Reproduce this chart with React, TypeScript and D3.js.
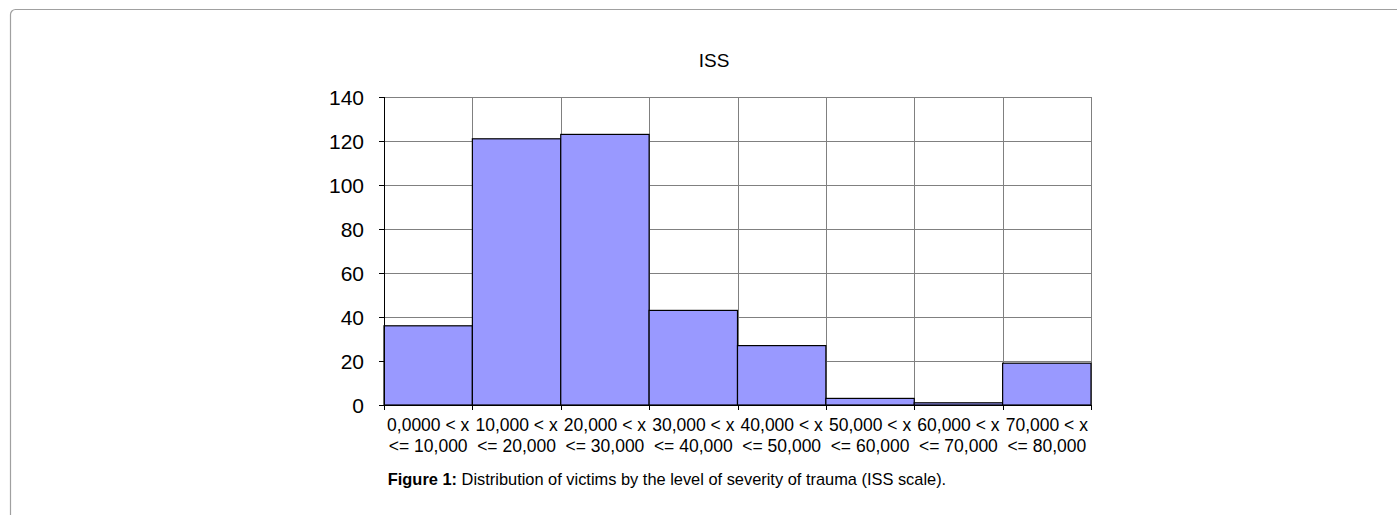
import React from "react";
import * as d3 from "d3";

const categoriesLine1 = ["0,0000 < x", "10,000 < x", "20,000 < x", "30,000 < x", "40,000 < x", "50,000 < x", "60,000 < x", "70,000 < x"];
const categoriesLine2 = ["<= 10,000", "<= 20,000", "<= 30,000", "<= 40,000", "<= 50,000", "<= 60,000", "<= 70,000", "<= 80,000"];
const values = [36, 121, 123, 43, 27, 3, 1, 19];
const yTicks = [0, 20, 40, 60, 80, 100, 120, 140];

const W = 1397, H = 515;
const left = 384, right = 1091, top = 97, bottom = 405;

export default function App() {
  const x = d3.scaleBand<number>().domain(d3.range(values.length)).range([left, right]).padding(0);
  const y = d3.scaleLinear().domain([0, 140]).range([bottom, top]);
  const font = "Arial, 'Liberation Sans', sans-serif";
  const bounds = d3.range(values.length + 1).map((i) => left + i * x.bandwidth());
  return (
    <svg width={W} height={H} style={{ position: "absolute", left: 0, top: 0 }} fontFamily={font}>
      <rect x={0} y={0} width={W} height={H} fill="#fff" />
      <rect x={10.5} y={9.5} width={1420} height={540} rx={5} fill="none" stroke="#a0a0a0" strokeWidth={1.2} />
      <text x={714} y={67} textAnchor="middle" fontSize={19} fill="#000">ISS</text>
      {yTicks.map((t) => (
        <line key={"g" + t} x1={left} x2={right} y1={Math.round(y(t)) + 0.5} y2={Math.round(y(t)) + 0.5} stroke="#808080" strokeWidth={1} />
      ))}
      {bounds.map((b, i) => (
        <line key={"v" + i} x1={Math.round(b) + 0.5} x2={Math.round(b) + 0.5} y1={top} y2={bottom} stroke="#808080" strokeWidth={1} />
      ))}
      {values.map((v, i) => (
        <rect key={"b" + i} x={x(i)!} y={y(v)} width={x.bandwidth()} height={bottom - y(v)} fill="#9999ff" stroke="#000" strokeWidth={1.2} />
      ))}
      <line x1={left + 0.5} x2={left + 0.5} y1={top} y2={bottom} stroke="#000" strokeWidth={1} />
      <line x1={left} x2={right} y1={bottom + 0.5} y2={bottom + 0.5} stroke="#000" strokeWidth={1} />
      {yTicks.map((t) => (
        <g key={"t" + t}>
          <line x1={left - 5} x2={left} y1={Math.round(y(t)) + 0.5} y2={Math.round(y(t)) + 0.5} stroke="#000" />
          <text x={left - 20} y={y(t) + 7.5} textAnchor="end" fontSize={21} fill="#000">{t}</text>
        </g>
      ))}
      {bounds.map((b, i) => (
        <line key={"xt" + i} x1={Math.round(b) + 0.5} x2={Math.round(b) + 0.5} y1={bottom} y2={bottom + 5} stroke="#000" />
      ))}
      {values.map((_, i) => (
        <text key={"c" + i} x={x(i)! + x.bandwidth() / 2} textAnchor="middle" fontSize={17.5} fill="#000">
          <tspan x={x(i)! + x.bandwidth() / 2} y={431}>{categoriesLine1[i]}</tspan>
          <tspan x={x(i)! + x.bandwidth() / 2} y={452}>{categoriesLine2[i]}</tspan>
        </text>
      ))}
      <text x={667} y={485} textAnchor="middle" fontSize={16.4} fill="#000">
        <tspan fontWeight="bold">Figure 1:</tspan> Distribution of victims by the level of severity of trauma (ISS scale).
      </text>
    </svg>
  );
}
